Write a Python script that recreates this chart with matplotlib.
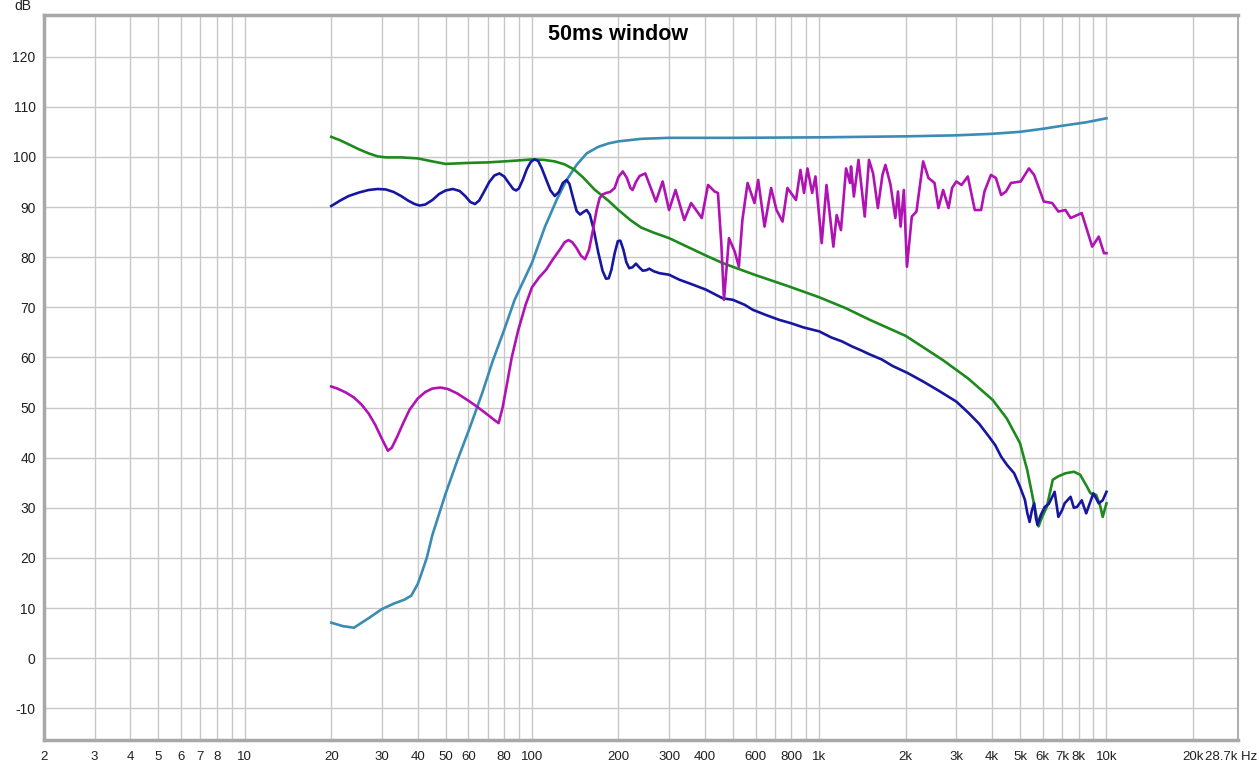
import matplotlib
matplotlib.use('Agg')
import matplotlib.pyplot as plt
from matplotlib.ticker import FixedLocator, NullFormatter
from matplotlib.transforms import ScaledTranslation

plt.rcParams['font.family'] = ['Liberation Sans', 'DejaVu Sans']
plt.rcParams['axes.unicode_minus'] = False

# Daten (Hz, dB)
teal_f = [20, 22, 24, 27, 30, 33, 36, 38, 40, 41, 43, 45, 50, 55, 61, 67, 73, 80, 87, 100,
          111, 122, 132, 143, 155, 170, 185, 200, 240, 300, 500, 1000, 2000, 3000, 4000,
          5000, 6000, 7000, 8500, 10000]
teal_db = [7.1, 6.4, 6.1, 8.0, 9.8, 10.9, 11.7, 12.5, 14.8, 16.5, 20.0, 24.6, 32.8, 39.5,
           46.3, 52.8, 59.3, 65.5, 71.5, 78.9, 86.1, 91.5, 95.4, 98.4, 100.7, 102.0, 102.7,
           103.1, 103.6, 103.8, 103.8, 103.9, 104.1, 104.3, 104.6, 105.0, 105.6, 106.2,
           106.9, 107.7]

green_f = [20, 21.5, 23, 25, 27, 29, 31, 35, 40, 45, 50, 60, 70, 80, 90, 100, 110, 120,
           130, 140, 150, 165, 185, 200, 220, 240, 265, 300, 404, 462, 595, 790, 1000,
           1240, 1500, 2000, 2690, 3300, 4020, 4500, 5000, 5300, 5500, 5650, 5800, 5950,
           6200, 6500, 6800, 7200, 7700, 8100, 8500, 8800, 9200, 9500, 9700, 10000]
green_db = [104.0, 103.3, 102.5, 101.5, 100.7, 100.1, 99.9, 99.9, 99.7, 99.1, 98.6, 98.8,
            98.9, 99.1, 99.3, 99.5, 99.4, 99.1, 98.5, 97.5, 96.0, 93.5, 91.2, 89.4, 87.4,
            85.9, 84.9, 83.8, 80.3, 78.8, 76.5, 74.1, 72.0, 69.8, 67.5, 64.3, 59.5, 55.8,
            51.5, 47.8, 42.9, 37.5, 32.9, 29.5, 26.3, 28.0, 30.2, 35.6, 36.3, 36.9, 37.2,
            36.6, 34.5, 32.9, 32.6, 30.5, 28.2, 30.9]

blue_f = [20, 21.5, 23, 25, 27, 29, 31, 33, 35, 37, 39, 40.6, 42.5, 45, 47.5, 50, 53, 56,
          58.5, 61, 63.3, 65.5, 68, 71, 74, 77, 80, 83, 86, 88, 90, 93, 96, 99, 102, 105,
          108, 112, 116, 120, 124, 128, 132, 135, 139, 143, 147, 151, 155, 159, 164, 170,
          176, 181, 185, 189, 194, 199, 203, 208, 213, 218, 224, 230, 236, 243, 250, 256,
          265, 278, 300, 326, 360, 404, 461, 500, 550, 587, 650, 725, 800, 880, 1000, 1100,
          1200, 1300, 1400, 1500, 1650, 1800, 2030, 2300, 2600, 3000, 3300, 3600, 3900,
          4100, 4300, 4500, 4770, 5000, 5200, 5300, 5400, 5500, 5600, 5680, 5750, 5900,
          6100, 6300, 6600, 6800, 7000, 7150, 7500, 7700, 7900, 8200, 8500, 9000, 9400,
          9700, 10000]
blue_db = [90.2, 91.3, 92.2, 92.9, 93.4, 93.6, 93.5, 93.0, 92.2, 91.3, 90.6, 90.3, 90.5,
           91.4, 92.6, 93.3, 93.6, 93.2, 92.2, 91.0, 90.6, 91.3, 93.0, 95.0, 96.3, 96.7,
           96.1, 94.8, 93.6, 93.3, 93.7, 95.5, 97.6, 99.0, 99.5, 99.2, 97.8, 95.5, 93.3,
           92.2, 93.0, 94.8, 95.4, 94.6, 91.8, 89.2, 88.5, 89.0, 89.4, 88.5, 85.5, 81.0,
           77.3, 75.7, 75.8, 77.5, 80.8, 83.2, 83.3, 81.5, 79.0, 77.8, 78.0, 78.7, 78.0,
           77.3, 77.4, 77.7, 77.2, 76.8, 76.5, 75.5, 74.6, 73.5, 71.8, 71.5, 70.5, 69.5,
           68.5, 67.5, 66.8, 66.0, 65.2, 64.0, 63.2, 62.2, 61.4, 60.6, 59.6, 58.3, 56.9,
           55.2, 53.4, 51.2, 49.0, 46.8, 44.2, 42.5, 40.2, 38.6, 36.9, 34.2, 31.6, 29.0,
           27.2, 29.5, 30.9, 28.0, 26.6, 28.5, 30.2, 30.8, 33.2, 28.2, 29.5, 30.9, 32.2,
           30.0, 30.2, 31.5, 28.9, 32.9, 30.9, 31.5, 33.2]

mag_f = [20, 21, 22.5, 24, 25.5, 27, 28.5, 30, 31.5, 32.5, 34, 35.6, 37.5, 40, 42.5, 45,
         48, 51, 55, 60, 65, 70, 74, 76.5, 79, 82, 85, 89.6, 95, 100, 106, 112, 118, 125,
         130, 134, 138, 143, 148, 153, 158, 163, 168, 172, 176, 181, 187, 194, 200, 207,
         214, 220, 224, 230, 237, 248, 270, 285, 300, 316, 339, 358, 390, 410, 432, 444,
         456, 466, 485, 508, 525, 540, 563, 595, 613, 645, 680, 710, 745, 775, 830, 860,
         885, 910, 945, 970, 1020, 1060, 1120, 1150, 1190, 1240, 1280, 1290, 1320, 1370,
         1440, 1490, 1540, 1600, 1660, 1700, 1770, 1840, 1880, 1920, 1970, 2020, 2100,
         2180, 2300, 2400, 2520, 2600, 2700, 2820, 2900, 3000, 3130, 3290, 3480, 3660,
         3760, 3960, 4120, 4300, 4470, 4650, 5030, 5370, 5600, 6050, 6470, 6800, 7200,
         7500, 8200, 8920, 9400, 9800, 10000]
mag_db = [54.2, 53.8, 53.0, 52.0, 50.6, 48.8, 46.5, 43.8, 41.4, 42.0, 44.3, 46.9, 49.6,
          51.8, 53.1, 53.8, 54.0, 53.7, 52.8, 51.4, 50.0, 48.6, 47.5, 46.9, 50.0, 55.0,
          60.0, 65.5, 70.5, 74.0, 76.0, 77.5, 79.5, 81.5, 83.0, 83.4, 83.0, 81.8, 80.3,
          79.6, 81.5, 85.4, 89.5, 91.8, 92.5, 92.8, 93.0, 93.8, 96.0, 97.1, 95.8, 93.8,
          93.4, 95.0, 96.2, 96.7, 91.1, 95.1, 89.4, 93.4, 87.4, 90.8, 87.8, 94.4, 93.1,
          92.8, 82.8, 71.5, 83.8, 81.1, 78.1, 87.4, 94.8, 90.8, 95.4, 86.1, 93.8, 89.4,
          87.1, 93.8, 91.4, 97.4, 92.8, 97.7, 92.8, 96.1, 82.8, 94.4, 82.1, 88.4, 85.4,
          97.7, 94.8, 98.1, 92.1, 99.4, 88.1, 99.4, 96.7, 89.8, 96.4, 98.4, 94.5, 87.8,
          93.1, 86.1, 93.4, 78.1, 88.1, 89.1, 99.1, 95.8, 94.8, 89.8, 93.4, 89.8, 93.8,
          95.1, 94.4, 96.1, 89.4, 89.4, 93.1, 96.4, 95.8, 92.4, 93.1, 94.8, 95.1, 97.7,
          96.4, 91.1, 90.8, 89.1, 89.4, 87.8, 88.8, 82.1, 84.1, 80.8, 80.8]

x_ticks = [2, 3, 4, 5, 6, 7, 8, 10, 20, 30, 40, 50, 60, 80, 100, 200, 300, 400, 600, 800,
           1000, 2000, 3000, 4000, 5000, 6000, 7000, 8000, 10000, 20000, 28700]
x_labels = ['2', '3', '4', '5', '6', '7', '8', '10', '20', '30', '40', '50', '60', '80',
            '100', '200', '300', '400', '600', '800', '1k', '2k', '3k', '4k', '5k', '6k',
            '7k', '8k', '10k', '20k', '28.7k Hz']
x_minor = [9, 70, 90, 500, 700, 900, 9000]
y_ticks = list(range(-10, 121, 10))

fig = plt.figure(figsize=(12.59, 7.64), dpi=100)
ax = fig.add_axes([44 / 1259, 1 - 740 / 764, (1238 - 44) / 1259, (740 - 15) / 764])

ax.plot(teal_f, teal_db, color='#3a8cb4', linewidth=1.9)
ax.plot(green_f, green_db, color='#1e8a1e', linewidth=1.9)
ax.plot(blue_f, blue_db, color='#1616a0', linewidth=1.9)
ax.plot(mag_f, mag_db, color='#b012b4', linewidth=1.9)

ax.set_xscale('log')
ax.set_xlim(2, 28700)
ax.set_ylim(-16.3, 128.3)

ax.xaxis.set_major_locator(FixedLocator(x_ticks))
ax.xaxis.set_minor_locator(FixedLocator(x_minor))
ax.xaxis.set_minor_formatter(NullFormatter())
ax.set_xticklabels(x_labels)
ax.set_yticks(y_ticks)
ax.tick_params(which='both', length=0, labelsize=10, colors='#202020')
ax.tick_params(axis='x', pad=8, labelsize=9.5)
ax.tick_params(axis='y', pad=6)

ax.grid(True, which='both', color='#c8c8c8', linewidth=1.0)
ax.set_axisbelow(True)

for side in ['left', 'bottom', 'top']:
    ax.spines[side].set_color('#a8a8a8')
    ax.spines[side].set_linewidth(2.5)
ax.spines['right'].set_color('#b0b0b0')
ax.spines['right'].set_linewidth(1.5)

# letzte Beschriftung nach links schieben wie im Original
last = ax.get_xticklabels()[-1]
last.set_horizontalalignment('right')
last.set_transform(last.get_transform() + ScaledTranslation(19 / 100, 0, fig.dpi_scale_trans))

fig.text(23 / 1259, 1 - 6 / 764, 'dB', ha='center', va='center', fontsize=10, color='#202020')
fig.text(618 / 1259, 1 - 35 / 764, '50ms window', ha='center', va='center',
         fontsize=15.5, fontweight='bold')

fig.savefig('out.png', dpi=100)
